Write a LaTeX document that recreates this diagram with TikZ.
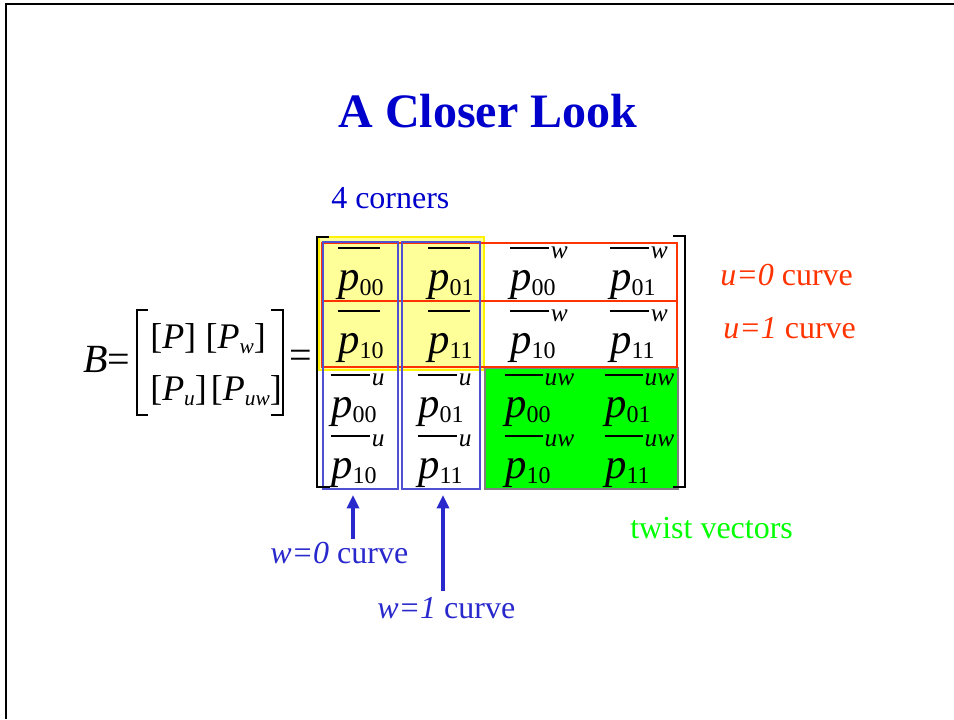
\documentclass[tikz,border=0pt]{standalone}
\usepackage{fontspec}
\setmainfont{Liberation Serif}
\definecolor{slblue}{RGB}{0,0,204}
\definecolor{slarrow}{RGB}{40,40,204}
\definecolor{slbox}{RGB}{80,80,210}
\definecolor{slred}{RGB}{255,51,0}
\definecolor{slgreen}{RGB}{0,255,0}
\definecolor{slyellow}{RGB}{255,255,153}
\usetikzlibrary{arrows.meta}
% lowered index
\newcommand{\subsc}[1]{\raisebox{-4pt}{\fontsize{18}{18}\selectfont #1}}
\newcommand{\msub}[1]{\raisebox{-4pt}{\fontsize{16}{16}\selectfont\itshape #1}}
% control point: index, derivative mark, bar width
\newcommand{\cpt}[3]{%
  \rlap{\raisebox{31pt}{\rule{#3}{1pt}}\kern1.5pt\raisebox{24pt}{\fontsize{19}{19}\selectfont\itshape #2}}%
  \textit{p}\subsc{#1}}

\begin{document}
\begin{tikzpicture}[
  x=0.75pt,y=-0.75pt,
  every node/.style={inner sep=0pt},
  entry/.style={anchor=base west,font=\fontsize{32}{38}\selectfont},
  txt/.style={anchor=base west,font=\fontsize{24}{28}\selectfont},
  brk/.style={line width=1.6pt},
  colbox/.style={draw=slbox,line width=0.9pt},
  rowbox/.style={draw=slred,line width=0.9pt},
  curvearrow/.style={slarrow,line width=2.6pt,-{Triangle[length=10pt,width=9pt]}},
]
  \useasboundingbox (0,0) rectangle (954,719);
  % slide frame
  \draw[line width=2.2pt] (6,719) -- (6,4) -- (954,4);
  % title
  \node[anchor=base,font=\fontsize{36}{42}\selectfont\bfseries,text=slblue]
    (title) at (488,127) {A Closer Look};
  \node[txt,text=slblue] (corners) at (331,208) {4 corners};
  % B = [P Pw; Pu Puw]
  \node[anchor=base west,font=\fontsize{30}{36}\selectfont] (B) at (83,372) {\textit{B}=};
  \draw[brk] (148,310) -- (137,310) -- (137,415) -- (148,415);
  \draw[brk] (271,310) -- (283,310) -- (283,415) -- (271,415);
  \node[anchor=base west,font=\fontsize{27}{32}\selectfont] (Brow1) at (150,348)
    {[\textit{P}]\hspace{7pt}[\textit{P}\msub{w}]};
  \node[anchor=base west,font=\fontsize{27}{32}\selectfont] (Brow2) at (150,400)
    {[\textit{P}\msub{u}]\hspace{3pt}[\textit{P}\msub{uw}]};
  \node[anchor=base west,font=\fontsize{30}{36}\selectfont] (eq) at (289,368) {=};
  % highlight boxes
  \draw[fill=slyellow,draw=yellow,line width=0.9pt] (319,237) rectangle (484,370);
  \draw[fill=slgreen,draw=gray,line width=0.9pt] (485,368) rectangle (678,489);
  \draw[rowbox] (322,243) rectangle (677,301);
  \draw[rowbox] (322,301) rectangle (677,367);
  \draw[colbox] (323,242) rectangle (398,489);
  \draw[colbox] (402,242) rectangle (480,489);
  % 4x4 brackets
  \draw[brk] (329,237) -- (317,237) -- (317,487) -- (330,487);
  \draw[brk] (673,236) -- (685,236) -- (685,487) -- (673,487);
  % corners
  \node[entry] (c00) at (338,290) {\cpt{00}{}{31pt}};
  \node[entry] (c01) at (428,290) {\cpt{01}{}{31pt}};
  \node[entry] (c10) at (338,353) {\cpt{10}{}{31pt}};
  \node[entry] (c11) at (428,353) {\cpt{11}{}{31pt}};
  % w tangents
  \node[entry] (w00) at (510,290) {\cpt{00}{w}{29pt}};
  \node[entry] (w01) at (610,290) {\cpt{01}{w}{29pt}};
  \node[entry] (w10) at (510,353) {\cpt{10}{w}{29pt}};
  \node[entry] (w11) at (610,353) {\cpt{11}{w}{29pt}};
  % u tangents
  \node[entry] (u00) at (331,417) {\cpt{00}{u}{29pt}};
  \node[entry] (u01) at (418,417) {\cpt{01}{u}{29pt}};
  \node[entry] (u10) at (331,478) {\cpt{10}{u}{29pt}};
  \node[entry] (u11) at (418,478) {\cpt{11}{u}{29pt}};
  % twists
  \node[entry] (uw00) at (505,417) {\cpt{00}{uw}{28pt}};
  \node[entry] (uw01) at (605,417) {\cpt{01}{uw}{28pt}};
  \node[entry] (uw10) at (505,478) {\cpt{10}{uw}{28pt}};
  \node[entry] (uw11) at (605,478) {\cpt{11}{uw}{28pt}};
  % side labels
  \node[txt,text=slred] (u0) at (720,285) {\textit{u=0} curve};
  \node[txt,text=slred] (u1) at (723,338) {\textit{u=1} curve};
  \node[txt,text=slgreen] (twist) at (630,538) {twist vectors};
  \node[txt,text=slarrow] (w0) at (270,563) {\textit{w=0} curve};
  \node[txt,text=slarrow] (w1) at (377,618) {\textit{w=1} curve};
  % arrows to the w curves
  \coordinate (col0) at (353,495);
  \coordinate (col1) at (443,495);
  \draw[curvearrow,shorten <=2pt] (w0.north -| col0) -- (col0);
  \draw[curvearrow,shorten <=4pt] (w1.north -| col1) -- (col1);
\end{tikzpicture}
\end{document}
